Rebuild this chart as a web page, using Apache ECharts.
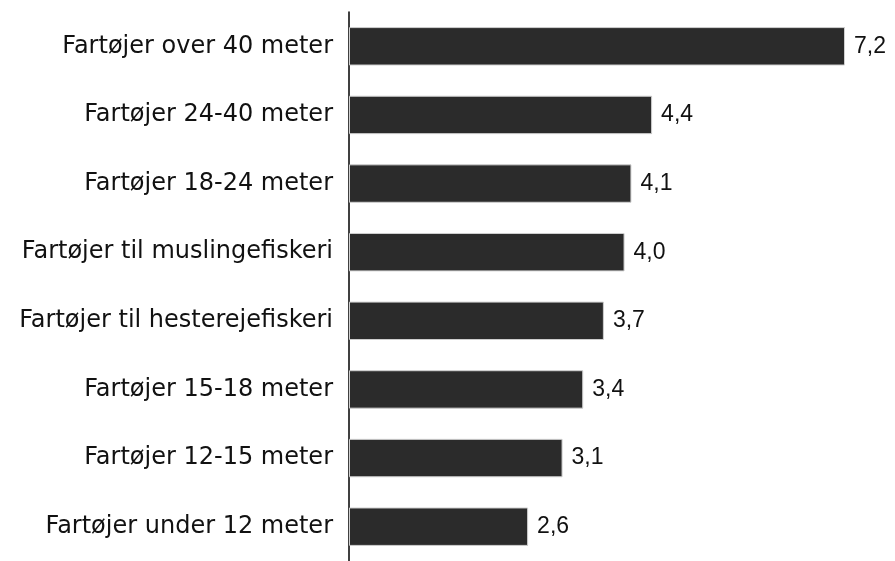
<!DOCTYPE html>
<html><head><meta charset="utf-8">
<script src="https://cdn.jsdelivr.net/npm/echarts@6/dist/echarts.min.js"></script>
<style>html,body{margin:0;padding:0;background:#fff}#c{width:895px;height:561px}</style>
</head><body><div id="c"></div>
<script>
const categories = [
  "Fartøjer over 40 meter",
  "Fartøjer 24-40 meter",
  "Fartøjer 18-24 meter",
  "Fartøjer til muslingefiskeri",
  "Fartøjer til hesterejefiskeri",
  "Fartøjer 15-18 meter",
  "Fartøjer 12-15 meter",
  "Fartøjer under 12 meter"
];
const values = [7.2, 4.4, 4.1, 4.0, 3.7, 3.4, 3.1, 2.6];

const chart = echarts.init(document.getElementById('c'), null, {renderer: 'canvas'});
chart.setOption({
  animation: false,
  grid: {left: 349, right: 50, top: 12, bottom: -6, containLabel: false},
  xAxis: {type: 'value', min: 0, max: 7.2, show: false},
  yAxis: {
    type: 'category', inverse: true, data: categories,
    axisLine: {show: true, lineStyle: {color: '#000', width: 1.5}},
    axisTick: {show: false},
    axisLabel: {color: '#111', fontSize: 24, fontFamily: 'DejaVu Sans', margin: 16}
  },
  series: [{
    type: 'bar', data: values, barCategoryGap: '44%',
    itemStyle: {color: '#2b2b2b', borderColor: '#d0d0d0', borderWidth: 1},
    label: {show: true, position: 'right', distance: 9, color: '#111', fontSize: 23, fontFamily: 'Liberation Sans',
      formatter: p => p.value.toFixed(1).replace('.', ',')}
  }]
});
</script></body></html>
